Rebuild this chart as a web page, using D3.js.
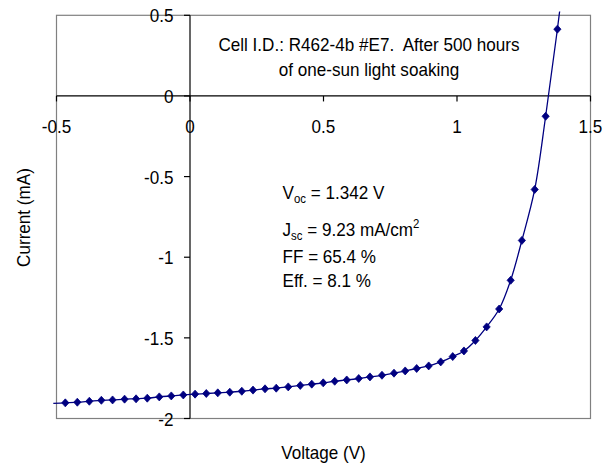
<!DOCTYPE html>
<html>
<head>
<meta charset="utf-8">
<script src="https://cdn.jsdelivr.net/npm/d3@7"></script>
<style>
  html, body { margin: 0; padding: 0; background: #fff; }
  svg { display: block; }
  text { font-family: "Liberation Sans", Arial, sans-serif; fill: #000; white-space: pre; }
</style>
</head>
<body>
<svg id="chart" width="605" height="466"></svg>
<script>
// ---- data ----
const voltage = [-0.467, -0.422, -0.377, -0.332, -0.290, -0.245, -0.202, -0.160, -0.115, -0.070, -0.025,
  0.019, 0.061, 0.104, 0.149, 0.194, 0.236, 0.281, 0.323, 0.368, 0.413, 0.456, 0.499,
  0.542, 0.587, 0.632, 0.674, 0.719, 0.764, 0.806, 0.849, 0.894, 0.939, 0.984,
  1.026, 1.069, 1.111, 1.158, 1.201, 1.243, 1.291, 1.332, 1.376];
const current = [-1.903, -1.899, -1.893, -1.887, -1.885, -1.880, -1.878, -1.874, -1.866, -1.860, -1.854,
  -1.849, -1.845, -1.841, -1.837, -1.831, -1.824, -1.816, -1.812, -1.804, -1.795, -1.787, -1.779,
  -1.769, -1.761, -1.752, -1.742, -1.732, -1.719, -1.705, -1.690, -1.674, -1.649, -1.616,
  -1.581, -1.516, -1.432, -1.321, -1.143, -0.896, -0.580, -0.126, 0.414];
// line continues slightly past the plot edges (no markers there)
const lineStart = [-0.512, -1.906];
const lineEnd = [1.42, 1.0];

const xTicks = [-0.5, 0, 0.5, 1, 1.5];
const yTicks = [0.5, 0, -0.5, -1, -1.5, -2];
const xTickLabels = ["-0.5", "0", "0.5", "1", "1.5"];
const yTickLabels = ["0.5", "0", "-0.5", "-1", "-1.5", "-2"];

const xTitle = "Voltage (V)";
const yTitle = "Current (mA)";
const noteLines = ["Cell I.D.: R462-4b #E7.  After 500 hours", "of one-sun light soaking"];

// ---- layout ----
const svg = d3.select("#chart");
const L = 56.5, R = 590.5, T = 15.3, B = 418.5;
const x = d3.scaleLinear().domain([-0.5, 1.5]).range([L, R]);
const y = d3.scaleLinear().domain([-2, 0.5]).range([B, T]);
const FS = 18, SX = 0.95;
const navy = "#000080";

function label(g, px, py, str, anchor, rotate) {
  const t = g.append("g")
    .attr("transform", `translate(${px},${py})` + (rotate ? ` rotate(${rotate})` : "") + ` scale(${SX},1)`)
    .append("text")
    .attr("font-size", FS)
    .attr("text-anchor", anchor || "middle")
    .text(str);
  return t;
}

// plot border
svg.append("rect")
  .attr("x", L).attr("y", T).attr("width", R - L).attr("height", B - T)
  .attr("fill", "none").attr("stroke", "#808080").attr("stroke-width", 1.2);

// axes through zero
const x0 = x(0), y0 = y(0);
svg.append("line").attr("x1", L).attr("x2", R).attr("y1", y0).attr("y2", y0)
  .attr("stroke", "#000").attr("stroke-width", 1.2);
svg.append("line").attr("x1", x0).attr("x2", x0).attr("y1", T).attr("y2", B)
  .attr("stroke", "#000").attr("stroke-width", 1.2);

// x ticks (downward on the zero line)
const gx = svg.append("g");
xTicks.forEach((v, i) => {
  gx.append("line").attr("x1", x(v)).attr("x2", x(v)).attr("y1", y0).attr("y2", y0 + 5.5)
    .attr("stroke", "#000").attr("stroke-width", 1.2);
  label(gx, x(v), 133, xTickLabels[i], "middle");
});

// y ticks (leftward on the zero line)
const gy = svg.append("g");
yTicks.forEach((v, i) => {
  gy.append("line").attr("x1", x0 - 6).attr("x2", x0).attr("y1", y(v)).attr("y2", y(v))
    .attr("stroke", "#000").attr("stroke-width", 1.2);
  label(gy, 173.5, y(v) + 7, yTickLabels[i], "end");
});

// axis titles
label(svg, 323.5, 459, xTitle, "middle");
label(svg, 30, 217.5, yTitle, "middle", -90);

// annotation
label(svg, 369, 51, noteLines[0], "middle");
label(svg, 369, 76, noteLines[1], "middle");

// stats box
function statLine(py, parts) {
  const g = svg.append("g").attr("transform", `translate(282.5,${py}) scale(${SX},1)`);
  const t = g.append("text").attr("font-size", FS);
  parts.forEach(p => {
    const ts = t.append("tspan").text(p.s);
    if (p.sub) ts.attr("font-size", 12).attr("dy", 4);
    if (p.sup) ts.attr("font-size", 12).attr("dy", -8);
    if (p.back) ts.attr("dy", p.back);
  });
}
statLine(199, [{s: "V"}, {s: "oc", sub: true}, {s: " = 1.342 V", back: -4}]);
statLine(236, [{s: "J"}, {s: "sc", sub: true}, {s: " = 9.23 mA/cm", back: -4}, {s: "2", sup: true}]);
statLine(263, [{s: "FF = 65.4 %"}]);
statLine(287, [{s: "Eff. = 8.1 %"}]);

// clip slightly larger than plot (line runs a few px past the frame)
svg.append("clipPath").attr("id", "clip")
  .append("rect").attr("x", 53).attr("y", 11.5).attr("width", R - 53 + 10).attr("height", B - 11.5);

const pts = [lineStart].concat(voltage.map((v, i) => [v, current[i]])).concat([lineEnd]);
const line = d3.line().x(d => x(d[0])).y(d => y(d[1])).curve(d3.curveCatmullRom.alpha(0.5));
svg.append("path")
  .attr("clip-path", "url(#clip)")
  .attr("d", line(pts))
  .attr("fill", "none").attr("stroke", navy).attr("stroke-width", 1.3);

// markers
svg.append("g").selectAll("path")
  .data(voltage.map((v, i) => [v, current[i]]))
  .join("path")
  .attr("transform", d => `translate(${x(d[0])},${y(d[1])})`)
  .attr("d", "M0,-4L3.6,0L0,4L-3.6,0Z")
  .attr("fill", navy).attr("stroke", navy).attr("stroke-width", 0.8);
</script>
</body>
</html>
